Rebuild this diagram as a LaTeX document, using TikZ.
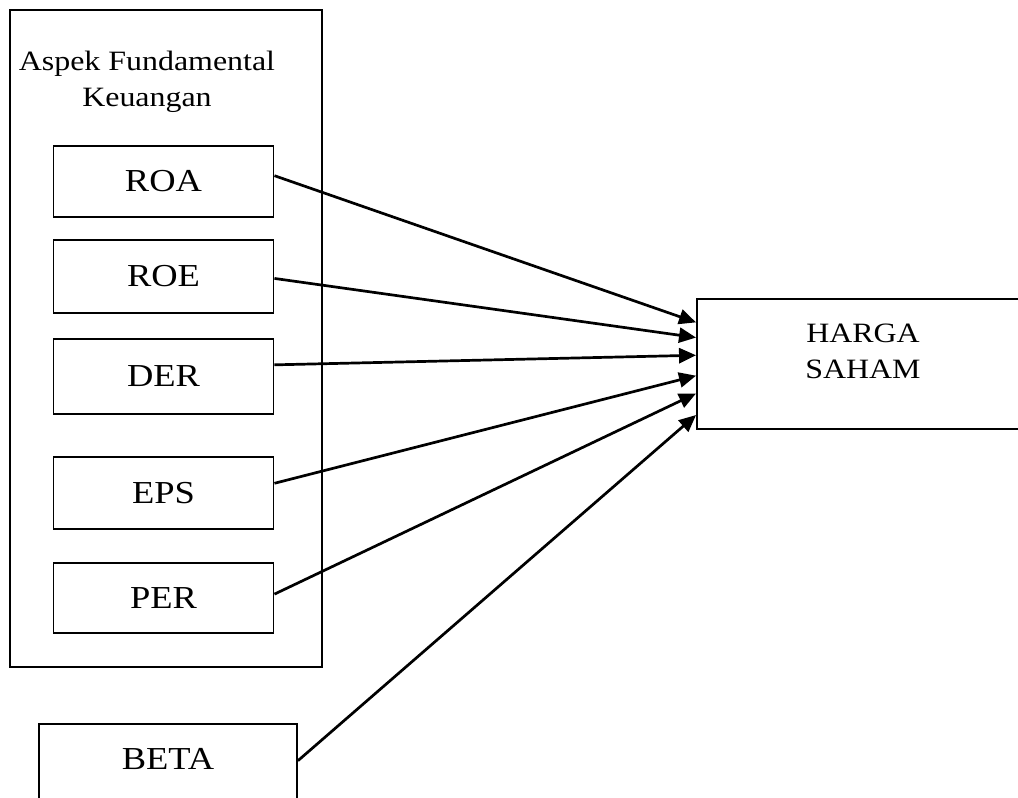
\documentclass[tikz,border=0pt]{standalone}
\usepackage{fontspec}
\setmainfont{Liberation Serif}[FakeStretch=1.14]
\usetikzlibrary{arrows.meta}
\tikzset{
	varbox/.style={draw, line width=1.9pt, minimum width=220pt, minimum height=71pt, inner sep=0pt, font=\fontsize{32}{36}\selectfont},
	bingkai/.style={draw, line width=1.9pt, inner sep=0pt},
	judul/.style={align=center, inner sep=0pt, font=\fontsize{28}{36}\selectfont},
	panah/.style={line width=2.7pt, -{Triangle[length=17pt,width=15pt]}}
}

\begin{document}
\begin{tikzpicture}[x=1pt,y=-1pt]
			\useasboundingbox (0,0) rectangle (1018,798);
			\node[bingkai, minimum width=312pt, minimum height=657pt] (aspek) at (166,338.5) {};
			\node[judul] (aspekteks) at (147,82) {Aspek Fundamental\\Keuangan};
			\node[varbox] (roa) at (163.5,181.5) {ROA};
			\node[varbox, minimum height=73pt] (roe) at (163.5,276.5) {ROE};
			\node[varbox, minimum height=75pt] (der) at (163.5,376.5) {DER};
			\node[varbox, minimum height=72pt] (eps) at (163.5,493) {EPS};
			\node[varbox, minimum height=70pt] (per) at (163.5,598) {PER};
			\node[varbox, minimum width=258pt, minimum height=110pt, text depth=40pt, anchor=north] (beta) at (168,723) {BETA};
			\node[bingkai, minimum width=332pt, minimum height=130pt] (harga) at (863,364) {};
			\node[judul] (hargateks) at (863,351) {HARGA\\SAHAM};
			\draw[panah] (roa.3.4) -- (harga.166.1);
			\draw[panah] (roe.-1.3) -- (harga.171.4);
			\draw[panah] (der.6) -- (harga.177.2);
			\draw[panah] (eps.5.7) -- (harga.184.5);
			\draw[panah] (per.2.6) -- (harga.190.9);
			\draw[panah] (beta.8.4) -- (harga.197.7);
		\end{tikzpicture}
\end{document}
